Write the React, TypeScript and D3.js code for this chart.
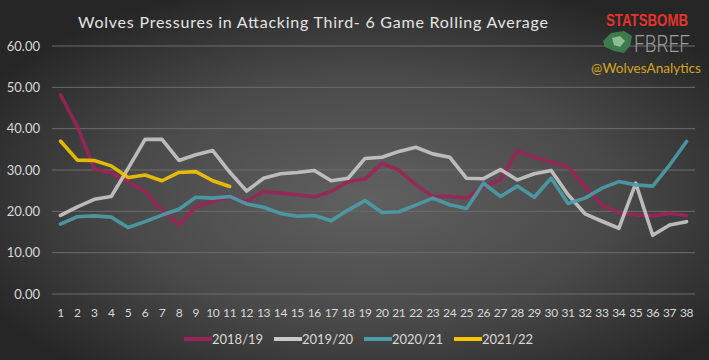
import React from "react";
import * as d3 from "d3";

const W = 709;
const H = 360;

const games: number[] = d3.range(1, 39);
const yTicks: number[] = [0, 10, 20, 30, 40, 50, 60];

const s1819: number[] = [48.2, 40.5, 30.2, 29.3, 27.2, 24.8, 20.3, 16.7, 21.1, 22.4, 23.4, 22.4, 24.8, 24.4, 24.0, 23.5, 24.8, 27.2, 27.8, 31.6, 30.0, 26.4, 23.6, 23.6, 23.2, 26.0, 27.6, 34.7, 33.1, 32.0, 30.7, 26.0, 21.5, 19.7, 19.1, 18.9, 19.5, 19.0];
const s1920: number[] = [19.0, 21.1, 22.9, 23.6, 30.4, 37.4, 37.4, 32.3, 33.7, 34.7, 29.5, 24.9, 28.0, 29.1, 29.4, 29.9, 27.4, 28.0, 32.8, 33.1, 34.5, 35.5, 33.9, 33.1, 28.0, 27.9, 30.1, 27.6, 29.1, 29.9, 24.0, 19.4, 17.6, 15.9, 26.8, 14.2, 16.7, 17.5];
const s2021: number[] = [16.9, 18.7, 18.9, 18.6, 16.1, 17.5, 19.1, 20.5, 23.4, 23.2, 23.6, 21.8, 21.0, 19.5, 18.8, 19.0, 17.7, 20.3, 22.6, 19.7, 19.9, 21.5, 23.2, 21.6, 20.7, 26.8, 23.6, 26.1, 23.4, 28.0, 21.9, 23.2, 25.6, 27.2, 26.4, 26.1, 31.2, 36.9];
const s2122: number[] = [37.0, 32.4, 32.3, 31.0, 28.2, 28.8, 27.4, 29.4, 29.6, 27.4, 26.0];

const seasons: string[] = ["2018/19", "2019/20", "2020/21", "2021/22"];
const colors: string[] = ["#9c2457", "#c8c8c8", "#4b9dab", "#f7c500"];
const seriesValues: number[][] = [s1819, s1920, s2021, s2122];

const x = d3.scalePoint<number>().domain(games).range([52, 695]).padding(0.5);
const y = d3.scaleLinear().domain([0, 60]).range([294, 46]);

const line = d3
  .line<number>()
  .x((_, i) => x(games[i]) as number)
  .y((d) => y(d));

const legendX: number[] = [184, 274, 364, 454];

export default function App() {
  const font = "Lato, 'Open Sans', sans-serif";
  return (
    <svg
      width={W}
      height={H}
      style={{ position: "absolute", left: 0, top: 0, display: "block" }}
    >
      <defs>
        <radialGradient id="bg" cx="52%" cy="55%" r="62%" fx="52%" fy="55%">
          <stop offset="0%" stopColor="#606060" />
          <stop offset="55%" stopColor="#4a4a4a" />
          <stop offset="100%" stopColor="#262626" />
        </radialGradient>
      </defs>
      <rect x={0} y={0} width={W} height={H} fill="url(#bg)" />

      {/* gridlines + y labels */}
      {yTicks.map((t) => (
        <g key={t}>
          <line x1={52} x2={695} y1={y(t)} y2={y(t)} stroke="#6c6c6c" strokeWidth={1} />
          <text
            x={40}
            y={y(t)}
            dy="0.35em"
            textAnchor="end"
            fontFamily={font}
            fontSize={13}
            fill="#d9d9d9"
          >
            {t.toFixed(2)}
          </text>
        </g>
      ))}

      {/* x labels */}
      {games.map((g) => (
        <text
          key={g}
          x={x(g) as number}
          y={317}
          textAnchor="middle"
          fontFamily={font}
          fontSize={12}
          letterSpacing={-0.4}
          fill="#d9d9d9"
        >
          {g}
        </text>
      ))}

      {/* lines */}
      {seriesValues.map((vals, i) => (
        <path
          key={seasons[i]}
          d={line(vals) || ""}
          fill="none"
          stroke={colors[i]}
          strokeWidth={3.6}
          strokeLinejoin="round"
          strokeLinecap="round"
          opacity={0.9}
        />
      ))}

      {/* title */}
      <text
        x={313}
        y={28}
        textAnchor="middle"
        fontFamily={font}
        fontSize={16}
        fill="#e4e4e4"
        textLength={470}
        lengthAdjust="spacing"
      >
        Wolves Pressures in Attacking Third- 6 Game Rolling Average
      </text>

      {/* logo */}
      <text
        x={606}
        y={26}
        fontFamily="'Liberation Sans', Arial, sans-serif"
        fontWeight={700}
        fontSize={16}
        fill="#e3342c"
        textLength={82}
        lengthAdjust="spacingAndGlyphs"
      >
        STATSBOMB
      </text>
      <path
        d="M603,41 L611,33 L624,31 L632,36 L630,46 L624,53 L614,51 L605,47 Z"
        fill="#3f7a4c"
      />
      <path d="M612,38 L620,36 L625,41 L620,47 L614,45 Z" fill="#9fcfa6" opacity={0.8} />
      <text
        x={634}
        y={52}
        fontFamily="Roboto, sans-serif"
        fontWeight={300}
        fontSize={24}
        fill="#9c9c9c"
        textLength={56}
        lengthAdjust="spacingAndGlyphs"
      >
        FBREF
      </text>
      <text
        x={591}
        y={73}
        fontFamily={font}
        fontSize={14}
        fill="#d6a51c"
        textLength={110}
        lengthAdjust="spacingAndGlyphs"
      >
        @WolvesAnalytics
      </text>

      {/* legend */}
      {seasons.map((s, i) => (
        <g key={s}>
          <line
            x1={legendX[i]}
            x2={legendX[i] + 28}
            y1={339}
            y2={339}
            stroke={colors[i]}
            strokeWidth={4}
          />
          <text
            x={legendX[i] + 28}
            y={339}
            dy="0.35em"
            fontFamily={font}
            fontSize={13}
            fill="#d9d9d9"
          >
            {s}
          </text>
        </g>
      ))}
    </svg>
  );
}
